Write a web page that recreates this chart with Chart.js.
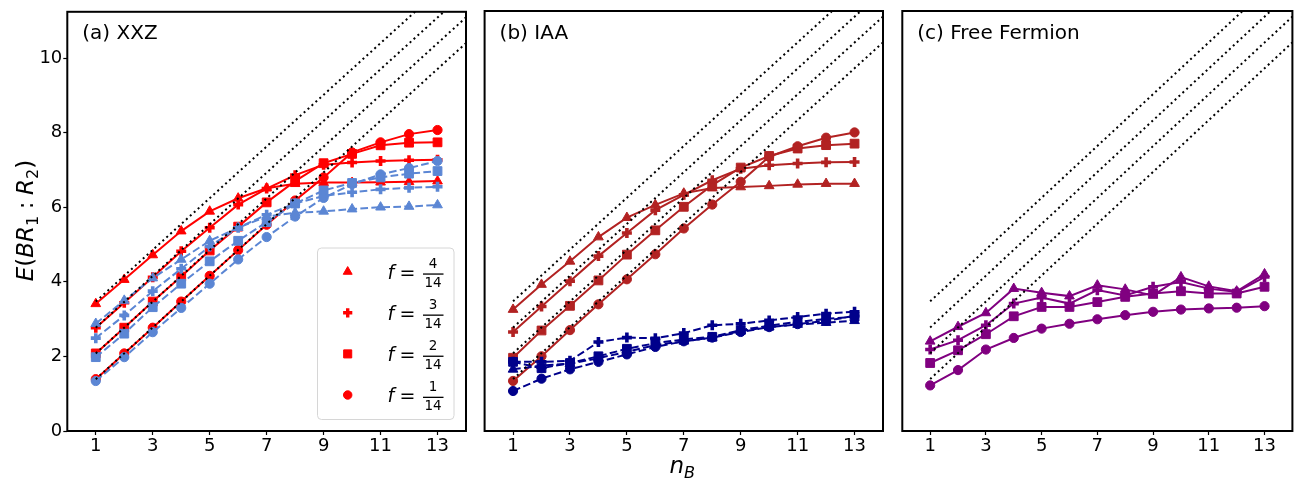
<!DOCTYPE html>
<html>
<head>
<meta charset="utf-8">
<script src="https://cdn.jsdelivr.net/npm/chart.js@4/dist/chart.umd.min.js"></script>
<style>
  html, body { margin: 0; padding: 0; background: #fff; }
  #wrap { position: relative; width: 1301px; height: 478px; }
  #wrap canvas { position: absolute; left: 0; top: 0; }
</style>
</head>
<body>
<div id="wrap">
  <canvas id="pa" width="1301" height="478"></canvas>
  <canvas id="pb" width="1301" height="478"></canvas>
  <canvas id="pc" width="1301" height="478"></canvas>
</div>
<script>
'use strict';

const nB = [1, 2, 3, 4, 5, 6, 7, 8, 9, 10, 11, 12, 13];
const xTicks = [1, 3, 5, 7, 9, 11, 13];
const yTicks = [0, 2, 4, 6, 8, 10];
const fNumerators = ['4', '3', '2', '1'];
const fDenominator = '14';

// dotted guide lines, value at n_B = 1 and at n_B = 14
const guideX = [1, 14];
const guideLines = [[3.47, 12.48], [2.77, 11.78], [2.08, 11.09], [1.39, 10.40]];

// (a) XXZ, solid red
const xxzRed4 = [3.41, 4.06, 4.72, 5.36, 5.89, 6.24, 6.51, 6.63, 6.66, 6.66, 6.67, 6.68, 6.70];
const xxzRed3 = [2.77, 3.44, 4.12, 4.82, 5.45, 6.07, 6.50, 6.86, 7.14, 7.20, 7.24, 7.26, 7.27];
const xxzRed2 = [2.08, 2.77, 3.47, 4.14, 4.84, 5.48, 6.13, 6.70, 7.18, 7.43, 7.66, 7.73, 7.74];
const xxzRed1 = [1.39, 2.08, 2.77, 3.47, 4.16, 4.85, 5.53, 6.18, 6.80, 7.47, 7.74, 7.96, 8.07];
// (a) XXZ, dashed blue
const xxzBlue4 = [2.88, 3.50, 4.10, 4.60, 5.10, 5.45, 5.75, 5.85, 5.89, 5.95, 6.00, 6.02, 6.06];
const xxzBlue3 = [2.49, 3.10, 3.75, 4.35, 4.95, 5.45, 5.80, 6.10, 6.30, 6.40, 6.48, 6.52, 6.55];
const xxzBlue2 = [1.98, 2.61, 3.32, 3.95, 4.55, 5.10, 5.60, 6.10, 6.45, 6.65, 6.80, 6.90, 6.97];
const xxzBlue1 = [1.34, 1.98, 2.65, 3.30, 3.95, 4.60, 5.20, 5.75, 6.25, 6.62, 6.88, 7.05, 7.24];

// (b) IAA, solid firebrick
const iaaRed4 = [3.25, 3.92, 4.54, 5.19, 5.71, 6.05, 6.36, 6.50, 6.53, 6.56, 6.60, 6.62, 6.62];
const iaaRed3 = [2.65, 3.33, 4.01, 4.68, 5.30, 5.91, 6.32, 6.71, 7.02, 7.11, 7.16, 7.19, 7.20];
const iaaRed2 = [1.96, 2.69, 3.35, 4.03, 4.72, 5.37, 6.00, 6.58, 7.05, 7.36, 7.56, 7.65, 7.69];
const iaaRed1 = [1.34, 2.00, 2.70, 3.39, 4.06, 4.73, 5.42, 6.06, 6.67, 7.34, 7.62, 7.85, 7.99];
// (b) IAA, dashed navy
const iaaBlue4 = [1.65, 1.75, 1.80, 1.95, 2.12, 2.30, 2.40, 2.50, 2.68, 2.78, 2.85, 2.90, 2.95];
const iaaBlue3 = [1.85, 1.85, 1.88, 2.38, 2.50, 2.48, 2.62, 2.83, 2.87, 2.96, 3.05, 3.14, 3.19];
const iaaBlue2 = [1.85, 1.68, 1.82, 2.00, 2.20, 2.35, 2.45, 2.52, 2.70, 2.82, 2.92, 3.00, 3.06];
const iaaBlue1 = [1.07, 1.40, 1.65, 1.85, 2.05, 2.25, 2.40, 2.50, 2.65, 2.78, 2.86, 2.95, 3.08];

// (c) Free Fermion, solid purple
const ff4 = [2.40, 2.79, 3.16, 3.81, 3.70, 3.61, 3.90, 3.79, 3.63, 4.12, 3.87, 3.74, 4.20];
const ff3 = [2.18, 2.43, 2.83, 3.41, 3.57, 3.41, 3.77, 3.63, 3.86, 3.99, 3.81, 3.72, 4.12];
const ff2 = [1.82, 2.16, 2.59, 3.07, 3.32, 3.32, 3.45, 3.59, 3.68, 3.74, 3.68, 3.68, 3.86];
const ff1 = [1.22, 1.63, 2.18, 2.49, 2.74, 2.87, 2.99, 3.10, 3.19, 3.25, 3.28, 3.30, 3.34];

const markers = ['triangle', 'cross', 'rect', 'circle'];
const markerRadius = {triangle: 5.6, cross: 5, rect: 6.2, circle: 4.6};
const FONT = '"DejaVu Sans", sans-serif';

function series(values, color, k, dashed, order) {
    const style = markers[k];
    return {
        data: nB.map((n, i) => ({x: n, y: values[i]})),
        borderColor: color,
        backgroundColor: color,
        borderWidth: 2,
        borderDash: dashed ? [7.7, 3.3] : [],
        pointStyle: style,
        pointRadius: markerRadius[style],
        pointHoverRadius: markerRadius[style],
        pointBorderWidth: style === 'cross' ? 3.6 : 1,
        pointBackgroundColor: color,
        pointBorderColor: color,
        tension: 0,
        order,
    };
}

function guides() {
    return guideLines.map(g => ({
        data: guideX.map((x, i) => ({x, y: g[i]})),
        borderColor: '#000',
        borderWidth: 2,
        borderDash: [2, 3.3],
        borderCapStyle: 'butt',
        pointRadius: 0,
        order: 0,
    }));
}

function drawMath(ctx, parts, x, y, size, measureOnly) {
    let cx = x;
    for (const [t, k] of parts) {
        if (k === 'gap') {
            cx += t * size;
            continue;
        }
        const sub = k[0] === 's';
        const it = k.endsWith('i');
        const fs = sub ? size * 0.7 : size;
        ctx.font = `${it ? 'italic ' : ''}${fs}px ${FONT}`;
        if (!measureOnly) {
            ctx.fillText(t, cx, sub ? y + size * 0.22 : y);
        }
        cx += ctx.measureText(t).width;
    }
    return cx - x;
}

function drawMarker(ctx, style, x, y, color) {
    ctx.save();
    ctx.fillStyle = color;
    ctx.strokeStyle = color;
    const bw = style === 'cross' ? 3.4 : 1;
    ctx.lineWidth = bw;
    const r = markerRadius[style] * 0.92;
    if (Chart.helpers && Chart.helpers.drawPoint) {
        Chart.helpers.drawPoint(ctx, {pointStyle: style, radius: r, borderWidth: bw, rotation: 0}, x, y);
    }
    ctx.restore();
}

const panelPlugin = {
    id: 'panel',
    afterDatasetsDraw(chart, args, opts) {
        const {ctx} = chart;
        if (!opts.legend) {
            return;
        }
        // legend box for panel (a)
        ctx.save();
        const bx = 317.5, by = 248, bw = 136.5, bh = 171.5, rr = 4;
        ctx.beginPath();
        ctx.moveTo(bx + rr, by);
        ctx.arcTo(bx + bw, by, bx + bw, by + bh, rr);
        ctx.arcTo(bx + bw, by + bh, bx, by + bh, rr);
        ctx.arcTo(bx, by + bh, bx, by, rr);
        ctx.arcTo(bx, by, bx + bw, by, rr);
        ctx.closePath();
        ctx.fillStyle = 'rgba(255,255,255,0.8)';
        ctx.fill();
        ctx.strokeStyle = '#d6d6d6';
        ctx.lineWidth = 1;
        ctx.stroke();
        fNumerators.forEach((num, i) => {
            const cy = 271.7 + 41.1 * i;
            drawMarker(ctx, markers[i], 347.7, cy, '#ff0000');
            ctx.fillStyle = '#000';
            ctx.textBaseline = 'alphabetic';
            ctx.textAlign = 'left';
            ctx.font = `italic 19px ${FONT}`;
            ctx.fillText('f', 387.5, cy + 7);
            ctx.font = `19px ${FONT}`;
            ctx.fillText('=', 399.5, cy + 7);
            ctx.textAlign = 'center';
            ctx.font = `13.5px ${FONT}`;
            ctx.fillText(num, 433, cy - 3.6);
            ctx.fillText(fDenominator, 433, cy + 15.3);
            ctx.fillRect(423, cy + 1.7, 20.5, 1.3);
        });
        ctx.restore();
    },
    afterDraw(chart, args, opts) {
        const {ctx, chartArea: a} = chart;
        ctx.save();
        ctx.strokeStyle = '#000';
        ctx.lineWidth = 2;
        ctx.strokeRect(a.left, a.top, a.right - a.left, a.bottom - a.top);
        ctx.fillStyle = '#000';
        ctx.textBaseline = 'alphabetic';
        ctx.textAlign = 'left';
        ctx.font = `20px ${FONT}`;
        ctx.fillText(opts.title, a.left + 15, a.top + 27.5);
        if (opts.ylabel) {
            const parts = [['E', 'i'], ['(', 'r'], ['B', 'i'], ['R', 'i'], ['1', 's'], [0.28, 'gap'], [':', 'r'],
                [0.28, 'gap'], ['R', 'i'], ['2', 's'], [')', 'r']];
            const size = 23;
            const w = drawMath(ctx, parts, 0, 0, size, true);
            ctx.translate(32.5, 220.5);
            ctx.rotate(-Math.PI / 2);
            drawMath(ctx, parts, -w / 2, 0, size, false);
        }
        if (opts.xlabel) {
            drawMath(ctx, [['n', 'i'], ['B', 'si']], 669.5, 472.5, 23, false);
        }
        ctx.restore();
    }
};

function makeChart(id, datasets, box, panelOpts) {
    const ctx = document.getElementById(id).getContext('2d');
    return new Chart(ctx, {
        type: 'line',
        data: {datasets},
        plugins: [panelPlugin],
        options: {
            responsive: false,
            animation: false,
            events: [],
            layout: {padding: {left: 0, top: 11, right: box.right, bottom: 0}},
            plugins: {
                legend: {display: false},
                tooltip: {enabled: false},
                panel: panelOpts,
            },
            scales: {
                x: {
                    type: 'linear',
                    min: 0,
                    max: 14,
                    afterBuildTicks: s => { s.ticks = xTicks.map(v => ({value: v})); },
                    afterFit: s => { s.height = 47; },
                    grid: {drawOnChartArea: false, drawTicks: true, tickLength: 4, tickWidth: 1.2, tickColor: '#000'},
                    border: {display: false},
                    ticks: {color: '#000', font: {family: FONT, size: 18}, padding: 1, maxRotation: 0, autoSkip: false},
                },
                y: {
                    type: 'linear',
                    min: 0,
                    max: 11.24,
                    afterBuildTicks: s => { s.ticks = yTicks.map(v => ({value: v})); },
                    afterFit: s => { s.width = box.left; },
                    grid: {drawOnChartArea: false, drawTicks: panelOpts.ylabel, tickLength: 4, tickWidth: 1.2, tickColor: '#000'},
                    border: {display: false},
                    ticks: {display: panelOpts.ylabel, color: '#000', font: {family: FONT, size: 18}, padding: 1},
                },
            },
        },
    });
}

const RED = '#ff0000', BLUE = '#5b86d4', BRICK = '#b22222', NAVY = '#00008b', PURPLE = '#800080';

makeChart('pa', [
    ...guides(),
    series(xxzBlue4, BLUE, 0, true, 1), series(xxzBlue3, BLUE, 1, true, 1),
    series(xxzBlue2, BLUE, 2, true, 1), series(xxzBlue1, BLUE, 3, true, 1),
    series(xxzRed4, RED, 0, false, 2), series(xxzRed3, RED, 1, false, 2),
    series(xxzRed2, RED, 2, false, 2), series(xxzRed1, RED, 3, false, 2),
], {left: 67.3, right: 835}, {title: '(a) XXZ', ylabel: true, legend: true});

makeChart('pb', [
    ...guides(),
    series(iaaBlue4, NAVY, 0, true, 1), series(iaaBlue3, NAVY, 1, true, 1),
    series(iaaBlue2, NAVY, 2, true, 1), series(iaaBlue1, NAVY, 3, true, 1),
    series(iaaRed4, BRICK, 0, false, 2), series(iaaRed3, BRICK, 1, false, 2),
    series(iaaRed2, BRICK, 2, false, 2), series(iaaRed1, BRICK, 3, false, 2),
], {left: 484.6, right: 418}, {title: '(b) IAA', ylabel: false, xlabel: true});

makeChart('pc', [
    ...guides(),
    series(ff4, PURPLE, 0, false, 2), series(ff3, PURPLE, 1, false, 2),
    series(ff2, PURPLE, 2, false, 2), series(ff1, PURPLE, 3, false, 2),
], {left: 902.3, right: 1}, {title: '(c) Free Fermion', ylabel: false});
</script>
</body>
</html>
